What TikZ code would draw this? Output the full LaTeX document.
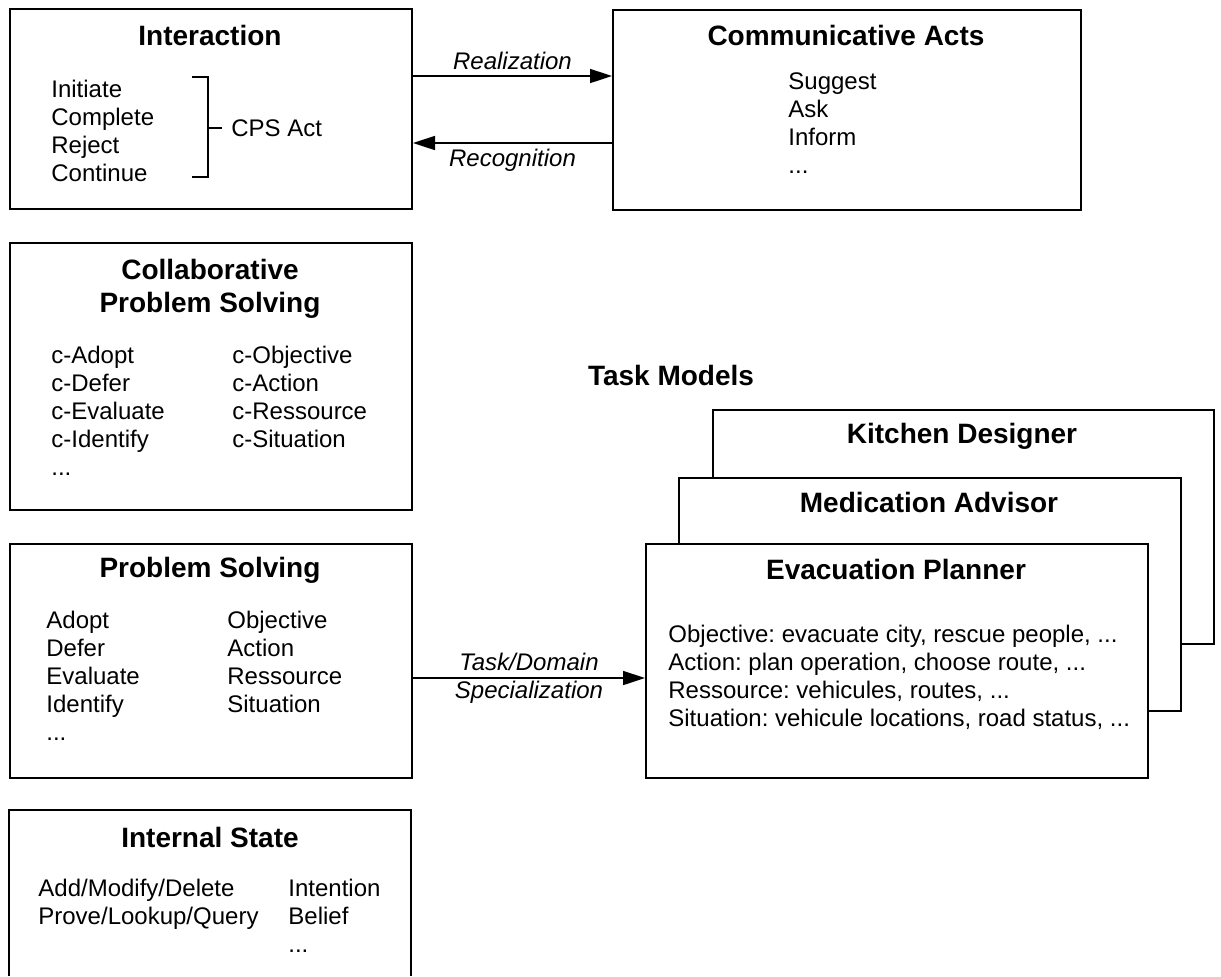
\documentclass[tikz,border=0pt]{standalone}
\usepackage{fontspec}
\setmainfont{Liberation Sans}
\usetikzlibrary{arrows.meta}
\frenchspacing

\begin{document}
\begin{tikzpicture}[x=0.5pt, y=-0.5pt, >={Triangle[length=11pt, width=7pt]},
    box/.style={draw, line width=1pt, fill=white, anchor=north west, inner sep=0pt},
    boxtitle/.style={font=\bfseries\fontsize{14}{16.5}\selectfont, align=center},
    boxitems/.style={font=\fontsize{12}{14}\selectfont, align=left, anchor=north west, inner sep=0pt},
    arrlbl/.style={font=\itshape\fontsize{12}{14}\selectfont, inner sep=2.5pt},
    conn/.style={->, line width=0.8pt}]
    \useasboundingbox (0,0) rectangle (1221,976);

    \node[box, minimum width=201pt, minimum height=100pt] (inter) at (9,8) {};
    \node[boxtitle] (interT) at (210,35) {Interaction};
    \node[boxitems] (interL) at (51,80) {Initiate\\Complete\\Reject\\Continue};
    \draw[line width=0.8pt] (192,77) -| (208,177) -- (192,177);
    \coordinate (brk) at (208,128);
    \node[boxitems, anchor=west] (cpsact) at (231,128) {CPS Act};
    \draw[line width=0.8pt] (brk) -- ([xshift=-4.5pt]cpsact.west);

    \node[box, minimum width=234pt, minimum height=100pt] (comm) at (612,9) {};
    \node[boxtitle] (commT) at (846,35) {Communicative Acts};
    \node[boxitems] (commL) at (788,72) {Suggest\\Ask\\Inform\\...};

    \draw[conn] ([yshift=16.5pt]inter.east) -- node[arrlbl, above] {Realization} ([yshift=16.5pt]inter.east -| comm.west);
    \draw[conn] ([yshift=-17pt]inter.east -| comm.west) -- node[arrlbl, below] {Recognition} ([yshift=-17pt]inter.east);

    \node[box, minimum width=201pt, minimum height=133.5pt] (collab) at (9,242) {};
    \node[boxtitle, anchor=north, inner sep=0pt] (collabT) at (210,259) {Collaborative\\Problem Solving};
    \node[boxitems] (collabL) at (51,346) {c-Adopt\\c-Defer\\c-Evaluate\\c-Identify\\...};
    \node[boxitems] (collabR) at (232,346) {c-Objective\\c-Action\\c-Ressource\\c-Situation};

    \node[box, minimum width=201pt, minimum height=117pt] (ps) at (9,543) {};
    \node[boxtitle] (psT) at (210,570) {Problem Solving};
    \node[boxitems] (psL) at (46,611) {Adopt\\Defer\\Evaluate\\Identify\\...};
    \node[boxitems] (psR) at (227,611) {Objective\\Action\\Ressource\\Situation};

    \draw[line width=1pt] (9,976) |- (411,810) -- (411,976);
    \node[boxtitle] (isT) at (210,837) {Internal State};
    \node[boxitems] (isL) at (38,879) {Add/Modify/Delete\\Prove/Lookup/Query};
    \node[boxitems] (isR) at (288,879) {Intention\\Belief\\...};

    \node[boxtitle] (tm) at (671,375) {Task Models};
    \node[box, minimum width=250.5pt, minimum height=117pt] (kitchen) at (712,409) {};
    \node[boxtitle] (kitchenT) at (962,436) {Kitchen Designer};
    \node[box, minimum width=251pt, minimum height=116.5pt] (med) at (678,477) {};
    \node[boxtitle] (medT) at (929,502) {Medication Advisor};
    \node[box, minimum width=251pt, minimum height=117pt] (evac) at (645,543) {};
    \node[boxtitle] (evacT) at (896,569) {Evacuation Planner};
    \node[boxitems] (evacL) at (668,625) {Objective: evacuate city, rescue people, ...\\Action: plan operation, choose route, ...\\Ressource: vehicules, routes, ...\\Situation: vehicule locations, road status, ...};

    \draw[conn] ([yshift=-8.5pt]ps.east) -- node[arrlbl, align=center] {Task/Domain\\Specialization} ([yshift=-8.5pt]ps.east -| evac.west);
\end{tikzpicture}
\end{document}
